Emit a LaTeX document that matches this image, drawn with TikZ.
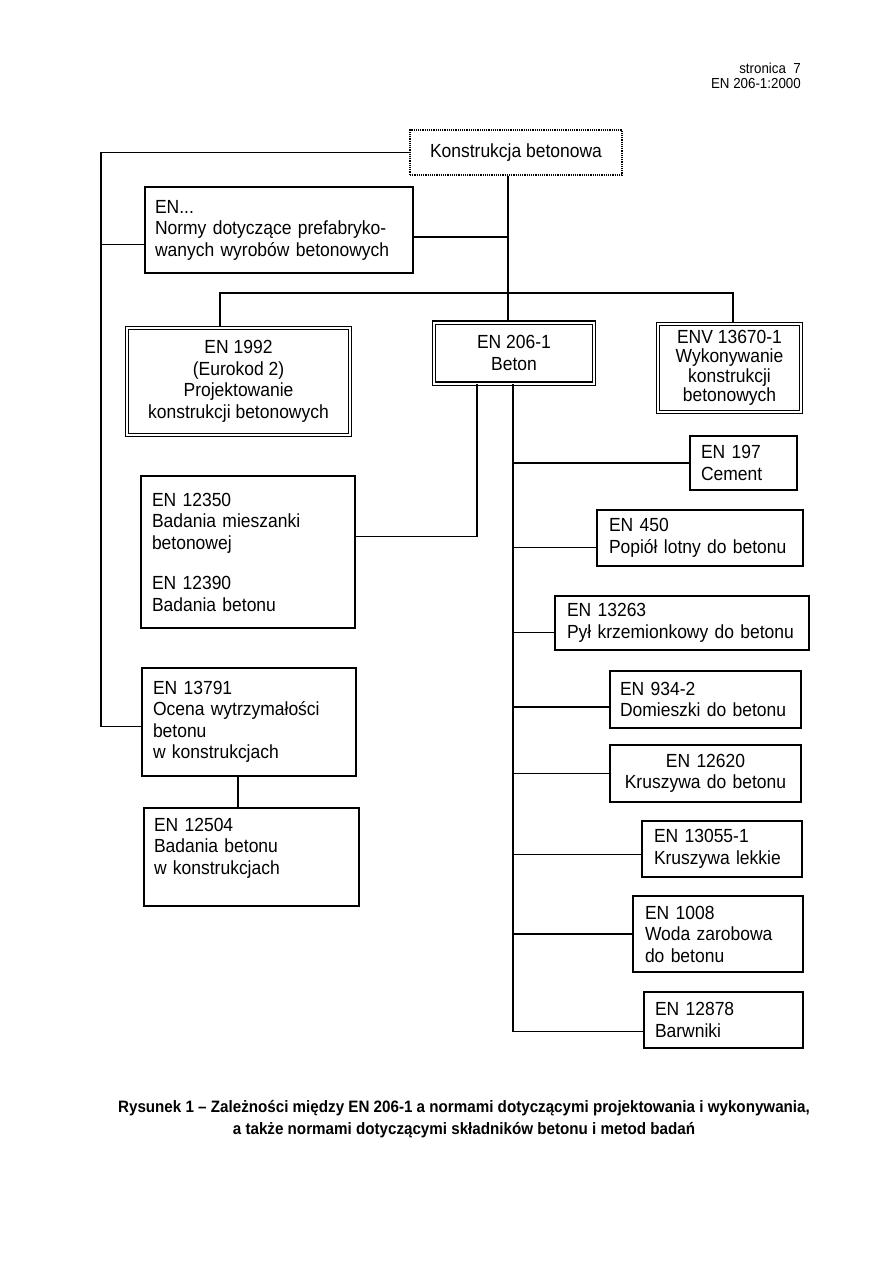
\documentclass[tikz,border=0pt]{standalone}
\usepackage{fontspec}
\setmainfont{Liberation Sans}[FakeStretch=0.92]
\usetikzlibrary{calc}
\begin{document}
\begin{tikzpicture}[x=1pt,y=-1pt,
  every node/.style={font=\fontsize{19}{21.5}\selectfont},
  box/.style={draw, line width=1.3pt, inner ysep=0pt, align=left},
  cbox/.style={draw, line width=1.3pt, inner ysep=0pt, align=center},
  dbl/.style={draw, line width=1.1pt, double, double distance=2pt, inner sep=0pt, align=center},
  dotbox/.style={draw, line width=1.4pt, dash pattern=on 1.2pt off 1pt, inner sep=0pt},
  conn/.style={line width=1.3pt}]
\useasboundingbox (0,0) rectangle (893,1261);

% header
\node[font=\fontsize{14.5}{14.5}\selectfont, align=right, anchor=north east, inner sep=0pt] (hdr) at (801,63) {stronica\ \ 7\\EN 206-1:2000};

% boxes
\node[dotbox, minimum width=212pt, minimum height=45pt] (kb) at (516,152.5) {Konstrukcja betonowa};
\node[box, minimum height=86pt, text width=248pt, inner xsep=10pt] (en) at (279,230) {EN...\\Normy dotyczące prefabryko-\\wanych wyrobów betonowych};

\node[dbl, minimum width=223pt, minimum height=107pt] (e1992) at (238.5,381.5) {EN 1992\\(Eurokod 2)\\Projektowanie\\konstrukcji betonowych};
\node[dbl, minimum width=160pt, minimum height=61pt] (e206) at (514,353) {EN 206-1\\Beton};
\node[dbl, minimum width=143pt, minimum height=88pt, font=\fontsize{19}{19.5}\selectfont] (env) at (729.5,368) {ENV 13670-1\\Wykonywanie\\konstrukcji\\betonowych};

\node[box, minimum height=54pt, text width=85pt, inner xsep=11pt] (e197) at (743.5,463) {EN 197\\Cement};
\node[box, minimum height=56pt, text width=182pt, inner xsep=12pt] (e450) at (700,538) {EN 450\\Popiół lotny do betonu};
\node[box, minimum height=54pt, text width=230pt, inner xsep=12pt] (e13263) at (682,623) {EN 13263\\Pył krzemionkowy do betonu};
\node[box, minimum height=57pt, text width=171pt, inner xsep=10pt] (e934) at (705.5,699.5) {EN 934-2\\Domieszki do betonu};
\node[cbox, minimum height=57pt, text width=171pt, inner xsep=10pt] (e12620) at (705.5,773.5) {EN 12620\\Kruszywa do betonu};
\node[box, minimum height=56pt, text width=136pt, inner xsep=12pt] (e13055) at (722,849) {EN 13055-1\\Kruszywa lekkie};
\node[box, minimum height=76pt, text width=146pt, inner xsep=12pt] (e1008) at (718,934) {EN 1008\\Woda zarobowa\\do betonu};
\node[box, minimum height=56pt, text width=137pt, inner xsep=11pt] (e12878) at (723.5,1020) {EN 12878\\Barwniki};

\node[box, minimum height=152pt, text width=192pt, inner xsep=11pt] (e12350) at (248,552) {EN 12350\\Badania mieszanki\\betonowej\\[19pt]EN 12390\\Badania betonu};
\node[box, minimum height=108pt, text width=192pt, inner xsep=11pt] (e13791) at (249,722) {EN 13791\\Ocena wytrzymałości\\betonu\\w konstrukcjach};
\node[box, minimum height=98pt, text width=195pt, inner xsep=10pt] (e12504) at (251.5,857) {EN 12504\\Badania betonu\\w konstrukcjach\\\mbox{}};

% bus coordinates
\coordinate (lbus) at (101,0);
\coordinate (mbus) at (508,0);
\coordinate (barL) at (220,293);
\coordinate (barR) at (733,293);
\coordinate (v1) at (477,0);
\coordinate (v2) at (513,0);
\coordinate (v3) at (238,0);

% connectors
\draw[conn] (kb.west) -- (lbus |- kb.west) -- (lbus |- {$(e13791.north west)!0.54!(e13791.south west)$}) -- ($(e13791.north west)!0.54!(e13791.south west)$);
\draw[conn] ($(en.north west)!0.67!(en.south west)$) -- (lbus |- {$(en.north west)!0.67!(en.south west)$});
\draw[conn] ($(en.north east)!0.58!(en.south east)$) -- (mbus |- {$(en.north east)!0.58!(en.south east)$});
\draw[conn] (mbus |- kb.south) -- (mbus |- e206.north);
\draw[conn] (barL |- e1992.north) -- (barL) -- (barR) -- (barR |- env.north);
\draw[conn] (v1 |- e206.south) -- (v1 |- {$(e12350.north east)!0.4!(e12350.south east)$}) -- ($(e12350.north east)!0.4!(e12350.south east)$);
\draw[conn] (v2 |- e206.south) -- (v2 |- {$(e12878.north west)!0.7!(e12878.south west)$}) -- ($(e12878.north west)!0.7!(e12878.south west)$);
\draw[conn] (v2 |- e197.west) -- (e197.west);
\draw[conn] (v2 |- {$(e450.north west)!0.66!(e450.south west)$}) -- ($(e450.north west)!0.66!(e450.south west)$);
\draw[conn] (v2 |- {$(e13263.north west)!0.67!(e13263.south west)$}) -- ($(e13263.north west)!0.67!(e13263.south west)$);
\draw[conn] (v2 |- {$(e934.north west)!0.63!(e934.south west)$}) -- ($(e934.north west)!0.63!(e934.south west)$);
\draw[conn] (v2 |- e12620.west) -- (e12620.west);
\draw[conn] (v2 |- {$(e13055.north west)!0.6!(e13055.south west)$}) -- ($(e13055.north west)!0.6!(e13055.south west)$);
\draw[conn] (v2 |- e1008.west) -- (e1008.west);
\draw[conn] (v3 |- e13791.south) -- (v3 |- e12504.north);

% caption
\node[font=\bfseries\fontsize{16.5}{22}\selectfont, align=center] (cap) at (464,1119) {Rysunek 1 – Zależności między EN 206-1 a normami dotyczącymi projektowania i wykonywania,\\a także normami dotyczącymi składników betonu i metod badań};
\end{tikzpicture}
\end{document}
